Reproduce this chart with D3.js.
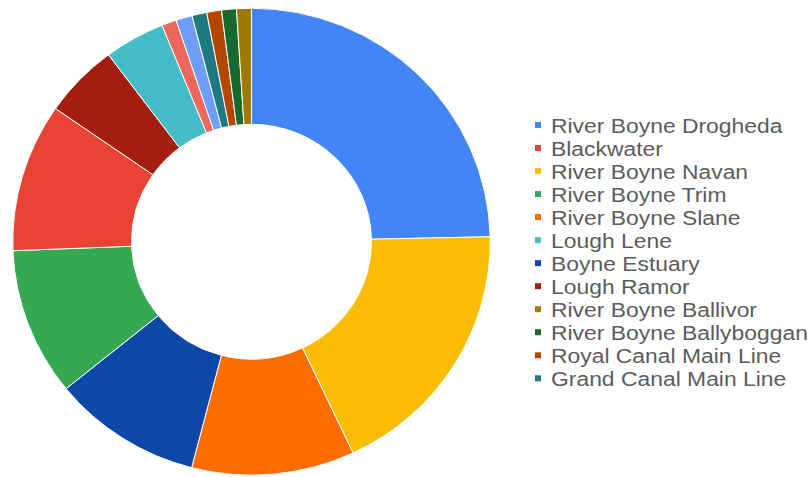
<!DOCTYPE html>
<html>
<head>
<meta charset="utf-8">
<script src="https://cdn.jsdelivr.net/npm/d3@7"></script>
<style>
  html, body { margin: 0; padding: 0; background: #fff; }
  svg { display: block; }
</style>
</head>
<body>
<svg id="chart"></svg>
<script>
// slices, clockwise from 12 o'clock (share of total, %)
const sliceNames = [
  "River Boyne Drogheda", "River Boyne Navan", "River Boyne Slane", "Boyne Estuary",
  "River Boyne Trim", "Blackwater", "Lough Ramor", "Lough Lene",
  "Other A", "Other B", "Grand Canal Main Line", "Royal Canal Main Line",
  "River Boyne Ballyboggan", "River Boyne Ballivor"
];
const sliceValues = [24.6, 18.3, 11.0, 10.1, 10.2, 10.25, 5.1, 4.1, 1.0, 1.1, 1.0, 1.0, 1.0, 1.0];

// legend entries, top to bottom
const legendNames = [
  "River Boyne Drogheda", "Blackwater", "River Boyne Navan", "River Boyne Trim",
  "River Boyne Slane", "Lough Lene", "Boyne Estuary", "Lough Ramor",
  "River Boyne Ballivor", "River Boyne Ballyboggan", "Royal Canal Main Line", "Grand Canal Main Line"
];

const colors = {
  "River Boyne Drogheda": "#4285f4",
  "Blackwater": "#ea4335",
  "River Boyne Navan": "#fbbc04",
  "River Boyne Trim": "#34a853",
  "River Boyne Slane": "#ff6d01",
  "Lough Lene": "#46bdc6",
  "Boyne Estuary": "#0d47a8",
  "Lough Ramor": "#a51d10",
  "River Boyne Ballivor": "#a07a00",
  "River Boyne Ballyboggan": "#17692e",
  "Royal Canal Main Line": "#b34700",
  "Grand Canal Main Line": "#1e7a80",
  "Other A": "#ee675c",
  "Other B": "#6d9ef7"
};

const width = 809;
const height = 477;

const svg = d3.select("#chart")
  .attr("width", width)
  .attr("height", height);

const data = sliceNames.map((name, i) => ({ name, value: sliceValues[i] }));

const pie = d3.pie().sort(null).value(d => d.value);
const arc = d3.arc().innerRadius(120).outerRadius(238.7);

// ── Donut ──
const donut = svg.append("g")
  .attr("transform", "translate(251.5,241.7) scale(1,0.978)");

donut.selectAll("path")
  .data(pie(data))
  .join("path")
  .attr("d", arc)
  .attr("fill", d => colors[d.data.name])
  .attr("stroke", "#fff")
  .attr("stroke-width", 1)
  .attr("vector-effect", "non-scaling-stroke");

// ── Legend ──
const legendY = d3.scalePoint()
  .domain(legendNames)
  .range([125, 378.3]);

const legend = svg.append("g");

const rows = legend.selectAll("g")
  .data(legendNames)
  .join("g")
  .attr("transform", d => `translate(535,${legendY(d)})`);

rows.append("rect")
  .attr("x", 0).attr("y", -3)
  .attr("width", 6).attr("height", 6)
  .attr("fill", d => colors[d]);

rows.append("text")
  .attr("transform", "translate(16,0) scale(1.09,1)")
  .attr("dy", "0.36em")
  .attr("font-family", "Liberation Sans, Arial, sans-serif")
  .attr("font-size", 21)
  .attr("fill", "#5c5c5c")
  .text(d => d);
</script>
</body>
</html>
